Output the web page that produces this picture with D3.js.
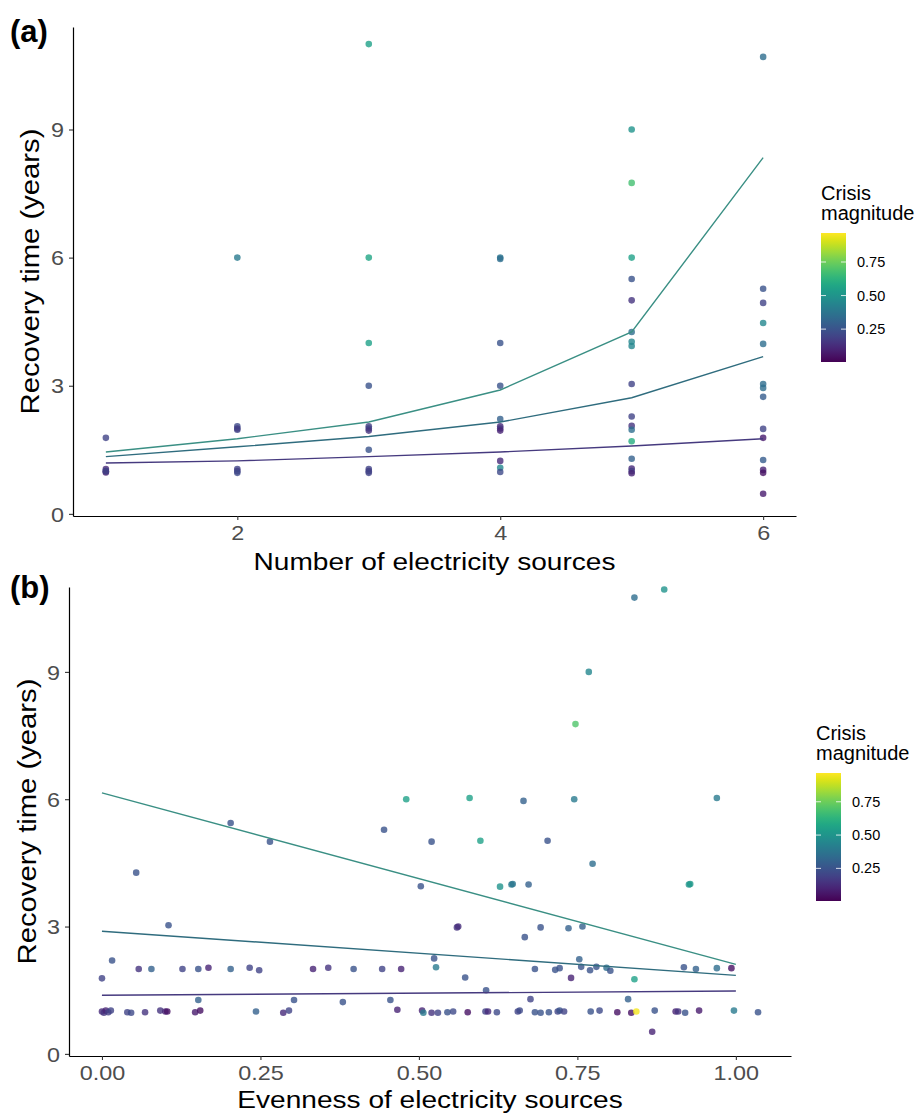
<!DOCTYPE html>
<html>
<head>
<meta charset="utf-8">
<script src="https://cdn.jsdelivr.net/npm/d3@7"></script>
<style>
  body { margin: 0; background: #fff; }
  text { font-family: "Liberation Sans", Arial, Helvetica, sans-serif; }
</style>
</head>
<body>
<div id="chart"></div>
<script>
// ---- panel (a): number of electricity sources ----
const sourcesA = [1,1,1,1,1,
  2,2,2,2,2,2,2,
  3,3,3,3,3,3,3,3,3,3,3,
  4,4,4,4,4,4,4,4,4,4,4,
  5,5,5,5,5,5,5,5,5,5,5,5,5,5,5,5,5,
  6,6,6,6,6,6,6,6,6,6,6,6,6,6];
const recoveryA = [1.78,1.05,1.0,0.97,1.0,
  6.0,2.05,1.97,2.0,1.05,1.0,0.96,
  11.0,6.0,4.0,3.0,2.05,2.0,1.95,1.5,1.05,1.0,0.96,
  6.0,5.97,4.0,3.0,2.22,2.05,2.0,1.95,1.24,1.08,0.98,
  9.0,7.75,6.0,5.5,5.0,4.26,4.03,3.93,3.04,2.28,2.06,1.97,1.7,1.29,1.06,1.0,0.95,
  10.7,5.27,4.94,4.47,3.98,3.04,2.95,2.74,1.99,1.78,1.26,1.03,0.96,0.47];
const magnitudeA = [0.2,0.12,0.15,0.1,0.2,
  0.4,0.22,0.2,0.18,0.2,0.18,0.22,
  0.55,0.57,0.55,0.25,0.18,0.2,0.15,0.25,0.2,0.18,0.2,
  0.38,0.35,0.25,0.25,0.3,0.12,0.15,0.1,0.12,0.45,0.22,
  0.5,0.68,0.55,0.25,0.15,0.35,0.45,0.45,0.2,0.2,0.15,0.35,0.6,0.3,0.12,0.18,0.1,
  0.35,0.25,0.2,0.45,0.35,0.35,0.35,0.28,0.2,0.08,0.28,0.1,0.05,0.08];

// quantile fits for (a)
const fitXA = [1, 2, 3, 4, 5, 6];
const q90A = [1.45, 1.76, 2.15, 2.9, 4.26, 8.34];
const q75A = [1.34, 1.57, 1.81, 2.15, 2.72, 3.68];
const q50A = [1.19, 1.24, 1.34, 1.45, 1.59, 1.76];

// ---- panel (b): evenness of electricity sources ----
const evennessB = [
  0.84,0.887,0.768,0.747,0.48,0.58,0.665,0.745,0.97,0.203,0.445,0.265,0.52,0.597,0.703,0.774,0.054,
  0.503,0.628,0.646,0.648,0.673,0.926,0.928,0.105,0.56,0.562,0.692,0.736,0.758,0.667,0.524,0.016,0.753,
  0.058,0.078,0.127,0.152,0.168,0.203,0.233,0.248,0.333,0.357,0.397,0.442,0.472,0.527,0.683,0.715,0.722,
  0.756,0.77,0.78,0.796,0.802,0.918,0.937,0.97,0.993,
  0.0,0.573,0.74,0.84,0.606,0.152,0.303,0.38,0.455,0.676,0.83,0.466,0.868,
  0.0,0.003,0.006,0.01,0.014,0.04,0.046,0.068,0.092,0.1,0.103,0.147,0.155,0.243,0.286,0.295,0.505,0.507,
  0.52,0.53,0.545,0.554,0.577,0.605,0.609,0.623,0.656,0.659,0.683,0.692,0.705,0.719,0.722,0.729,0.771,
  0.785,0.813,0.835,0.843,0.872,0.905,0.909,0.92,0.942,0.997,1.035];
const recoveryB = [
  10.75,10.94,9.0,7.77,6.0,6.03,5.96,6.0,6.03,5.44,5.28,5.0,5.0,5.02,5.02,4.48,4.27,
  3.95,3.94,3.99,4.0,3.99,3.99,4.0,3.03,2.98,3.0,2.98,2.96,3.0,2.75,2.25,2.2,2.23,
  2.0,2.0,2.0,2.0,2.03,2.0,2.03,1.97,2.0,2.03,2.0,2.0,2.0,2.04,2.0,1.98,2.02,
  2.05,1.97,2.05,2.03,1.96,2.04,2.0,2.02,2.02,
  1.78,1.8,1.79,1.76,1.5,1.27,1.27,1.22,1.27,1.29,1.29,1.04,0.52,
  1.0,0.97,1.02,0.98,1.02,0.98,0.97,0.98,1.02,1.0,1.0,0.98,1.02,1.0,0.97,1.02,1.02,0.97,
  0.97,0.97,0.98,1.0,0.98,1.0,1.0,0.98,1.0,1.02,0.98,0.97,0.98,1.0,1.02,1.0,1.0,
  1.02,0.98,0.97,1.0,1.02,1.0,1.0,0.97,1.02,1.02,0.98];
const magnitudeB = [
  0.35,0.5,0.45,0.7,0.55,0.55,0.3,0.4,0.4,0.25,0.25,0.25,0.25,0.55,0.25,0.35,0.25,
  0.25,0.5,0.4,0.38,0.3,0.5,0.52,0.25,0.15,0.13,0.25,0.3,0.3,0.25,0.25,0.25,0.3,
  0.15,0.3,0.2,0.25,0.1,0.3,0.2,0.2,0.1,0.15,0.25,0.2,0.1,0.4,0.25,0.25,0.25,
  0.25,0.25,0.25,0.35,0.25,0.25,0.3,0.35,0.05,
  0.2,0.25,0.1,0.55,0.25,0.3,0.25,0.25,0.25,0.2,0.3,0.1,0.1,
  0.12,0.15,0.1,0.18,0.2,0.2,0.22,0.15,0.15,0.1,0.05,0.08,0.05,0.3,0.12,0.2,0.1,0.4,
  0.15,0.2,0.25,0.22,0.05,0.2,0.12,0.22,0.2,0.22,0.25,0.25,0.25,0.2,0.25,0.2,0.25,
  0.22,0.05,0.05,0.95,0.25,0.1,0.15,0.25,0.08,0.4,0.25];

// quantile fits for (b)
const fitXB = [0, 1];
const q90B = [6.15, 2.11];
const q75B = [2.89, 1.85];
const q50B = [1.38, 1.48];

const yTicks = [0, 3, 6, 9];
const xTicksA = [2, 4, 6];
const xTicksB = [0, 0.25, 0.5, 0.75, 1];
const legendTicks = [0.25, 0.5, 0.75];
const magRange = [0.005, 0.966];

const STRETCH = 1.17; // axis text in the figure is a wide face
const lineColours = { q90: "#3a8f84", q75: "#2f6c7e", q50: "#463a7f" };

const svg = d3.select("#chart")
  .append("svg")
    .attr("width", 915)
    .attr("height", 1114)
    .attr("viewBox", [0, 0, 915, 1114]);

const colour = d3.scaleSequential(d3.interpolateViridis).domain(magRange);

// gradient for the colour bars
const grad = svg.append("defs").append("linearGradient")
  .attr("id", "viridisBar")
  .attr("x1", 0).attr("y1", 1).attr("x2", 0).attr("y2", 0);
d3.range(0, 1.0001, 0.05).forEach(t => {
  grad.append("stop").attr("offset", t).attr("stop-color", d3.interpolateViridis(t));
});

function drawPanel(p) {
  const x = d3.scaleLinear().domain(p.xDomain).range(p.xRange);
  const y = d3.scaleLinear().domain(p.yDomain).range(p.yRange);
  const g = svg.append("g");

  // points
  g.selectAll(".pt")
    .data(p.xs.map((v, i) => ({ x: v, y: p.ys[i], m: p.ms[i] })))
    .join("circle")
      .attr("class", "pt")
      .attr("cx", d => x(d.x))
      .attr("cy", d => y(d.y))
      .attr("r", 3.3)
      .attr("fill", d => colour(d.m))
      .attr("fill-opacity", 0.8);

  // fitted quantile lines
  const line = d3.line().x(d => x(d[0])).y(d => y(d[1]));
  p.fits.forEach(f => {
    g.append("path")
      .datum(p.fitX.map((v, i) => [v, f.vals[i]]))
      .attr("d", line)
      .attr("fill", "none")
      .attr("stroke", f.colour)
      .attr("stroke-width", 1.4);
  });

  // axes
  const xAxis = g.append("g")
    .attr("transform", `translate(0,${p.yRange[0]})`)
    .call(d3.axisBottom(x).tickValues(p.xTicks).tickFormat(p.xFormat).tickSize(4).tickSizeOuter(0));
  const yAxis = g.append("g")
    .attr("transform", `translate(${p.xRange[0]},0)`)
    .call(d3.axisLeft(y).tickValues(yTicks).tickFormat(d3.format("d")).tickSize(4).tickSizeOuter(0));

  [xAxis, yAxis].forEach(ax => {
    ax.select(".domain").attr("stroke", "#000").attr("stroke-width", 1.2);
    ax.selectAll(".tick line").attr("stroke", "#333").attr("stroke-width", 1.1);
    ax.selectAll(".tick text")
      .attr("fill", "#4d4d4d")
      .style("font-size", "20px")
      .attr("transform", `scale(${STRETCH},1)`);
  });
  xAxis.selectAll(".tick text").attr("y", 24).attr("dy", null);
  yAxis.selectAll(".tick text").attr("x", -9 / STRETCH).attr("dy", "0.36em");

  // axis titles
  svg.append("text")
    .attr("transform", `translate(${(p.xRange[0] + p.xRange[1]) / 2},${p.yRange[0] + p.xTitleDy}) scale(${STRETCH},1)`)
    .attr("text-anchor", "middle")
    .style("font-size", "24px")
    .text(p.xTitle);
  svg.append("text")
    .attr("transform", `translate(${p.yTitleX},${(p.yRange[0] + p.yRange[1]) / 2}) rotate(-90) scale(${STRETCH},1)`)
    .attr("text-anchor", "middle")
    .style("font-size", "25px")
    .text("Recovery time (years)");

  // panel tag
  svg.append("text")
    .attr("x", 10)
    .attr("y", p.tagY)
    .style("font-size", "31px")
    .style("font-weight", "bold")
    .text(p.tag);

  drawLegend(p.legend);
}

function drawLegend(l) {
  const lg = svg.append("g");
  lg.append("text").attr("x", l.x).attr("y", l.titleY).style("font-size", "20px").text("Crisis");
  lg.append("text").attr("x", l.x).attr("y", l.titleY + 20).style("font-size", "20px").text("magnitude");

  const ly = d3.scaleLinear().domain(magRange).range([l.bottom, l.top]);
  lg.append("rect")
    .attr("x", l.x).attr("y", l.top)
    .attr("width", 25).attr("height", l.bottom - l.top)
    .attr("fill", "url(#viridisBar)");

  legendTicks.forEach(v => {
    lg.append("line").attr("x1", l.x).attr("x2", l.x + 5).attr("y1", ly(v)).attr("y2", ly(v))
      .attr("stroke", "#fff").attr("stroke-opacity", 0.8);
    lg.append("line").attr("x1", l.x + 20).attr("x2", l.x + 25).attr("y1", ly(v)).attr("y2", ly(v))
      .attr("stroke", "#fff").attr("stroke-opacity", 0.8);
    lg.append("text")
      .attr("x", l.x + 36).attr("y", ly(v))
      .attr("dy", "0.35em")
      .style("font-size", "14.5px")
      .text(d3.format(".2f")(v));
  });
}

drawPanel({
  tag: "(a)", tagY: 42,
  xs: sourcesA, ys: recoveryA, ms: magnitudeA,
  xDomain: [0.75, 6.25], xRange: [73, 796],
  yDomain: [-0.05, 11.4], yRange: [516, 27],
  xTicks: xTicksA, xFormat: d3.format("d"),
  xTitle: "Number of electricity sources", xTitleDy: 54, yTitleX: 39,
  fitX: fitXA,
  fits: [
    { vals: q90A, colour: lineColours.q90 },
    { vals: q75A, colour: lineColours.q75 },
    { vals: q50A, colour: lineColours.q50 }
  ],
  legend: { x: 821, titleY: 200, top: 233, bottom: 362 }
});

drawPanel({
  tag: "(b)", tagY: 598,
  xs: evennessB, ys: recoveryB, ms: magnitudeB,
  xDomain: [-0.052, 1.087], xRange: [69, 791],
  yDomain: [-0.05, 11.0], yRange: [1056, 587],
  xTicks: xTicksB, xFormat: d3.format(".2f"),
  xTitle: "Evenness of electricity sources", xTitleDy: 52, yTitleX: 36,
  fitX: fitXB,
  fits: [
    { vals: q90B, colour: lineColours.q90 },
    { vals: q75B, colour: lineColours.q75 },
    { vals: q50B, colour: lineColours.q50 }
  ],
  legend: { x: 816, titleY: 740, top: 773, bottom: 901 }
});
</script>
</body>
</html>
